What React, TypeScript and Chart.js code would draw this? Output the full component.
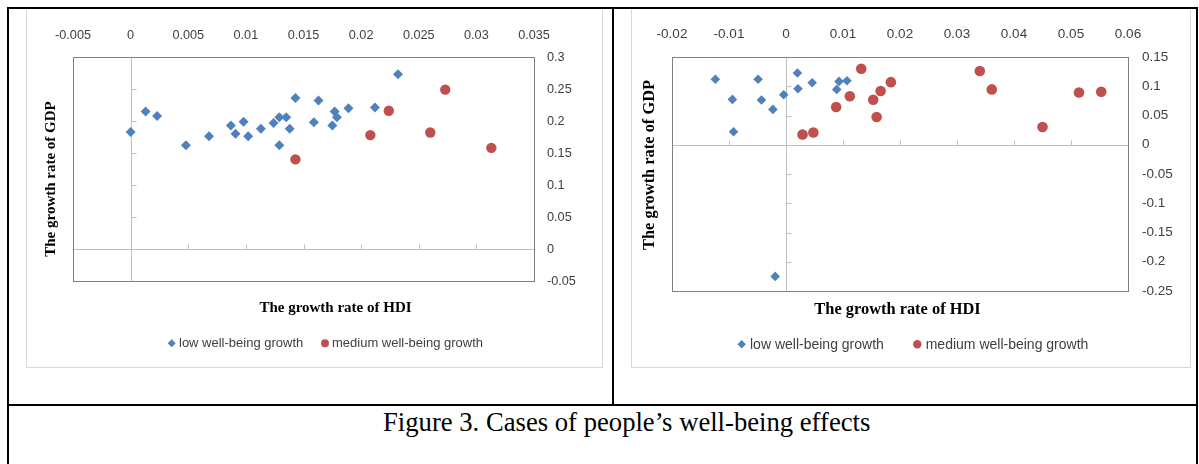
import React, { useEffect, useRef } from 'react';
import { Chart, registerables } from 'chart.js';

Chart.register(...registerables);

// ---------------- data ----------------
const seriesNames = ['low well-being growth', 'medium well-being growth'];
const xAxisTitle = 'The growth rate of HDI';
const yAxisTitle = 'The growth rate of GDP';
const captionText = 'Figure 3. Cases of people\u2019s well-being effects';

// left panel
const leftLowX = [0.0, 0.0013, 0.0023, 0.0048, 0.0068, 0.0087, 0.0091, 0.0098, 0.0102, 0.0113, 0.0124, 0.0129, 0.0135, 0.0129, 0.0138, 0.0143, 0.0163, 0.0159, 0.0177, 0.0179, 0.0175, 0.0189, 0.0212, 0.0232];
const leftLowY = [0.183, 0.215, 0.208, 0.162, 0.176, 0.193, 0.18, 0.199, 0.176, 0.188, 0.197, 0.206, 0.206, 0.162, 0.188, 0.236, 0.232, 0.198, 0.215, 0.206, 0.193, 0.22, 0.221, 0.273];
const leftMedX = [0.0224, 0.0208, 0.0273, 0.026, 0.0313, 0.0143];
const leftMedY = [0.216, 0.178, 0.249, 0.182, 0.158, 0.14];
const leftXTicks = [-0.005, 0, 0.005, 0.01, 0.015, 0.02, 0.025, 0.03, 0.035];
const leftYTicks = [-0.05, 0, 0.05, 0.1, 0.15, 0.2, 0.25, 0.3];

// right panel
const rightLowX = [-0.0124, -0.0049, -0.0094, -0.0043, -0.0023, -0.0004, -0.0092, 0.002, 0.0021, 0.0046, 0.0089, 0.0093, 0.0107, -0.0019];
const rightLowY = [0.112, 0.112, 0.0775, 0.0764, 0.0604, 0.0855, 0.0222, 0.1226, 0.0958, 0.106, 0.0946, 0.1083, 0.1095, -0.225];
const rightMedX = [0.0132, 0.0184, 0.0166, 0.0153, 0.0112, 0.0088, 0.0159, 0.0029, 0.0048, 0.034, 0.0361, 0.0514, 0.0553, 0.045];
const rightMedY = [0.13, 0.107, 0.092, 0.077, 0.083, 0.0645, 0.0474, 0.0176, 0.021, 0.126, 0.0946, 0.0894, 0.0906, 0.0303];
const rightXTicks = [-0.02, -0.01, 0, 0.01, 0.02, 0.03, 0.04, 0.05, 0.06];
const rightYTicks = [-0.25, -0.2, -0.15, -0.1, -0.05, 0, 0.05, 0.1, 0.15];

// ---------------- styles ----------------
const BLUE = '#4F81BD';
const RED = '#C0504D';
const BOX_COLOR = '#808080';
const AXIS_COLOR = '#bfbfbf';
const TEXT_COLOR = '#404040';
const SANS = '"Liberation Sans", Arial, sans-serif';
const SERIF = '"Liberation Serif", "Times New Roman", serif';

type Layout = {
  left: number; top: number; width: number; height: number;
  pad: { left: number; right: number; bottom: number };
  topBand: number; rightBand: number;
  xTickPad: number; yTickPad: number; tickSize: number;
  titleSize: number; legendSize: number;
  markR: number; circR: number; legendR: number;
  xTitle: [number, number]; yTitle: [number, number];
  legendMarks: [number, number][]; legendTextX: number[];
};

const leftLayout: Layout = {
  left: 27, top: 8, width: 575, height: 359,
  pad: { left: 46, right: 18, bottom: 86 },
  topBand: 49, rightBand: 50,
  xTickPad: 14, yTickPad: 13, tickSize: 12.7,
  titleSize: 15, legendSize: 13,
  markR: 5, circR: 5.2, legendR: 4,
  xTitle: [335.5, 308.5], yTitle: [51, 179],
  legendMarks: [[171.7, 343.3], [325, 343.3]], legendTextX: [179, 332],
};

const rightLayout: Layout = {
  left: 632, top: 8, width: 558, height: 359,
  pad: { left: 40, right: 12, bottom: 76 },
  topBand: 49, rightBand: 50,
  xTickPad: 15, yTickPad: 14, tickSize: 13.5,
  titleSize: 16.4, legendSize: 14,
  markR: 4.8, circR: 5.3, legendR: 4.2,
  xTitle: [897.5, 310], yTitle: [650, 165],
  legendMarks: [[741.7, 344.3], [917.3, 344.3]], legendTextX: [750, 925.7],
};

const fmt = (v: number | string) => String(parseFloat(Number(v).toFixed(4)));

function ScatterPanel({ lowX, lowY, medX, medY, xTicks, yTicks, L }: {
  lowX: number[]; lowY: number[]; medX: number[]; medY: number[];
  xTicks: number[]; yTicks: number[]; L: Layout;
}) {
  const ref = useRef<HTMLCanvasElement>(null);
  useEffect(() => {
    const canvas = ref.current!;
    const ox = L.left, oy = L.top;
    const snap = (v: number) => Math.round(v) + 0.5;

    const decor = {
      id: 'excelDecor',
      beforeDatasetsDraw(chart: any) {
        const { ctx, chartArea: a } = chart;
        const xs = chart.scales.x, ys = chart.scales.y;
        const x0 = snap(xs.getPixelForValue(0));
        const y0 = snap(ys.getPixelForValue(0));
        ctx.save();
        ctx.lineWidth = 1;
        ctx.strokeStyle = AXIS_COLOR;
        ctx.beginPath();
        ctx.moveTo(x0, a.top); ctx.lineTo(x0, a.bottom);
        ctx.moveTo(a.left, y0); ctx.lineTo(a.right, y0);
        xs.ticks.forEach((t: any) => {
          const px = snap(xs.getPixelForValue(t.value));
          ctx.moveTo(px, y0); ctx.lineTo(px, y0 - 5);
        });
        ys.ticks.forEach((t: any) => {
          const py = snap(ys.getPixelForValue(t.value));
          ctx.moveTo(x0, py); ctx.lineTo(x0 + 5, py);
        });
        ctx.stroke();
        ctx.strokeStyle = BOX_COLOR;
        ctx.strokeRect(snap(a.left), snap(a.top), Math.round(a.right - a.left), Math.round(a.bottom - a.top));
        ctx.restore();
      },
      afterDraw(chart: any) {
        const ctx = chart.ctx;
        ctx.save();
        ctx.fillStyle = '#000';
        ctx.font = `bold ${L.titleSize}px ${SERIF}`;
        ctx.textAlign = 'center';
        ctx.textBaseline = 'middle';
        ctx.fillText(xAxisTitle, L.xTitle[0] - ox, L.xTitle[1] - oy);
        ctx.save();
        ctx.translate(L.yTitle[0] - ox, L.yTitle[1] - oy);
        ctx.rotate(-Math.PI / 2);
        ctx.fillText(yAxisTitle, 0, 0);
        ctx.restore();
        // legend
        chart.data.datasets.forEach((ds: any, i: number) => {
          const mx = L.legendMarks[i][0] - ox, my = L.legendMarks[i][1] - oy;
          const r = L.legendR;
          ctx.fillStyle = ds.backgroundColor;
          ctx.beginPath();
          if (ds.pointStyle === 'rectRot') {
            ctx.moveTo(mx - r, my); ctx.lineTo(mx, my - r); ctx.lineTo(mx + r, my); ctx.lineTo(mx, my + r);
            ctx.closePath();
          } else {
            ctx.arc(mx, my, r, 0, Math.PI * 2);
          }
          ctx.fill();
          ctx.fillStyle = TEXT_COLOR;
          ctx.font = `${L.legendSize}px ${SANS}`;
          ctx.textAlign = 'left';
          ctx.textBaseline = 'middle';
          ctx.fillText(ds.label, L.legendTextX[i] - ox, my + 0.5);
        });
        ctx.restore();
      },
    };

    const tickFont = { family: SANS, size: L.tickSize };
    const chart = new Chart(canvas, {
      type: 'scatter',
      data: {
        datasets: [
          {
            label: seriesNames[0],
            data: lowX.map((x, i) => ({ x, y: lowY[i] })),
            pointStyle: 'rectRot',
            backgroundColor: BLUE,
            borderColor: BLUE,
            pointRadius: L.markR,
            pointHoverRadius: L.markR,
            pointBorderWidth: 0,
          },
          {
            label: seriesNames[1],
            data: medX.map((x, i) => ({ x, y: medY[i] })),
            pointStyle: 'circle',
            backgroundColor: RED,
            borderColor: RED,
            pointRadius: L.circR,
            pointHoverRadius: L.circR,
            pointBorderWidth: 0,
          },
        ],
      },
      options: {
        animation: false,
        responsive: false,
        devicePixelRatio: 1,
        events: [],
        layout: { padding: { left: L.pad.left, top: 0, right: L.pad.right, bottom: L.pad.bottom } },
        plugins: { legend: { display: false }, tooltip: { enabled: false }, title: { display: false } },
        scales: {
          x: {
            type: 'linear',
            position: 'top',
            min: xTicks[0],
            max: xTicks[xTicks.length - 1],
            afterBuildTicks: (s: any) => { s.ticks = xTicks.map((v) => ({ value: v })); },
            afterFit: (s: any) => { s.height = L.topBand; },
            ticks: { padding: L.xTickPad, font: tickFont, color: TEXT_COLOR, autoSkip: false, maxRotation: 0, minRotation: 0, callback: (v: any) => fmt(v) },
            grid: { display: false, drawTicks: false },
            border: { display: false },
          },
          y: {
            type: 'linear',
            position: 'right',
            min: yTicks[0],
            max: yTicks[yTicks.length - 1],
            afterBuildTicks: (s: any) => { s.ticks = yTicks.map((v) => ({ value: v })); },
            afterFit: (s: any) => { s.width = L.rightBand; },
            ticks: { padding: L.yTickPad, font: tickFont, color: TEXT_COLOR, autoSkip: false, callback: (v: any) => fmt(v) },
            grid: { display: false, drawTicks: false },
            border: { display: false },
          },
        },
      } as any,
      plugins: [decor as any],
    });
    return () => chart.destroy();
  }, []);
  return (
    <canvas
      ref={ref}
      width={L.width}
      height={L.height}
      style={{ position: 'absolute', left: L.left, top: L.top, width: L.width, height: L.height }}
    />
  );
}

const line = (left: number, top: number, width: number, height: number) => (
  <div style={{ position: 'absolute', left, top, width, height, background: '#000' }} />
);

export default function App() {
  return (
    <div style={{ position: 'absolute', left: 0, top: 0, width: 1199, height: 464, background: '#fff', overflow: 'hidden' }}>
      {/* chart frames */}
      <div style={{ position: 'absolute', left: 26, top: 7, width: 577, height: 361, border: '1px solid #d9d9d9', boxSizing: 'border-box' }} />
      <div style={{ position: 'absolute', left: 631, top: 7, width: 560, height: 361, border: '1px solid #d9d9d9', boxSizing: 'border-box' }} />
      <ScatterPanel lowX={leftLowX} lowY={leftLowY} medX={leftMedX} medY={leftMedY} xTicks={leftXTicks} yTicks={leftYTicks} L={leftLayout} />
      <ScatterPanel lowX={rightLowX} lowY={rightLowY} medX={rightMedX} medY={rightMedY} xTicks={rightXTicks} yTicks={rightYTicks} L={rightLayout} />
      {/* table borders */}
      {line(7, 7, 1191, 2)}
      {line(7, 7, 2, 457)}
      {line(1196, 7, 2, 457)}
      {line(612, 7, 2, 398)}
      {line(7, 404, 1191, 2)}
      <div
        style={{
          position: 'absolute', left: 383, top: 409, lineHeight: '26.67px', fontSize: '26.67px',
          fontFamily: SERIF, color: '#000', whiteSpace: 'nowrap',
        }}
      >
        {captionText}
      </div>
    </div>
  );
}
